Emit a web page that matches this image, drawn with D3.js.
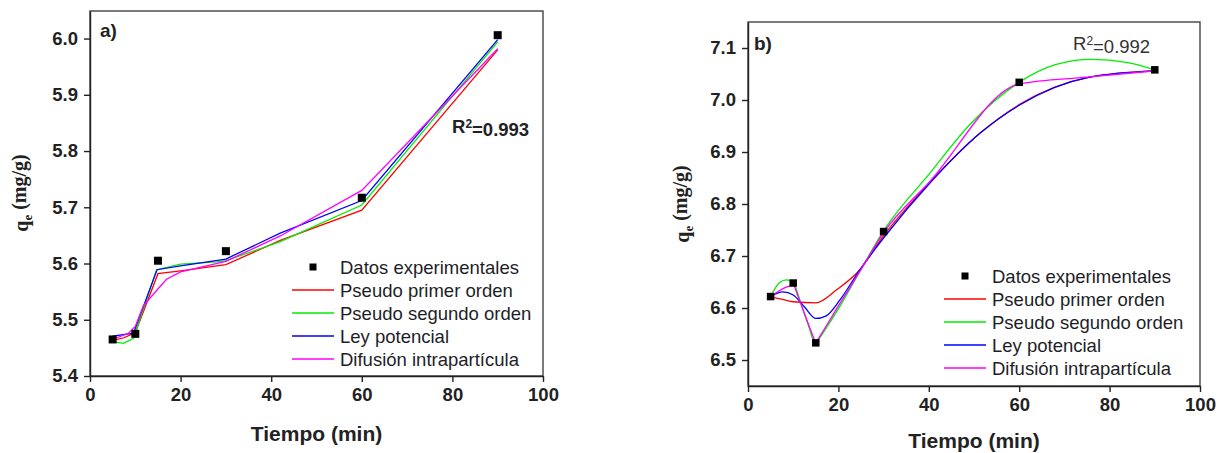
<!DOCTYPE html>
<html>
<head>
<meta charset="utf-8">
<script src="https://cdn.jsdelivr.net/npm/d3@7"></script>
<style>
  body { margin: 0; background: #fff; }
  svg { display: block; }
  .tick text { font-family: "Liberation Sans", Arial, sans-serif; font-weight: bold; font-size: 18.5px; fill: #222; }
  .axis path, .axis line { stroke: #222; stroke-width: 1.4; }
  .frame { fill: none; stroke: #444; stroke-width: 1.4; }
  .legend-text { font-family: "Liberation Sans", Arial, sans-serif; font-size: 18.5px; fill: #1e1e28; }
  .axis-title { font-family: "Liberation Sans", Arial, sans-serif; font-weight: bold; font-size: 21px; fill: #222; }
  .y-title { font-family: "Liberation Serif", "Times New Roman", serif; font-weight: bold; font-size: 20px; fill: #222; }
  .panel-label { font-family: "Liberation Sans", Arial, sans-serif; font-weight: bold; font-size: 19px; fill: #222; }
</style>
</head>
<body>
<div id="chart"></div>
<script>
// experimental points
const timeA = [5, 10, 15, 30, 60, 90];
const qeA = [5.465, 5.475, 5.605, 5.622, 5.717, 6.006];
const timeB = [5, 10, 15, 30, 60, 90];
const qeB = [6.622, 6.648, 6.533, 6.747, 7.034, 7.058];

// model curves, panel a  [t, q]
const primerA = [[5, 5.463], [7.5, 5.468], [10, 5.477], [15, 5.582], [20, 5.587], [30, 5.598], [42, 5.641], [60, 5.695], [90, 5.98]];
const segundoA = [[5, 5.461], [7.4, 5.458], [9.6, 5.467], [14.7, 5.589], [20, 5.599], [28, 5.603], [30, 5.605], [42, 5.639], [60, 5.704], [90, 5.994]];
const potencialA = [[5, 5.471], [9.6, 5.476], [14.8, 5.589], [20, 5.596], [30, 5.608], [42, 5.654], [60, 5.712], [90, 5.998]];
const difusionA = [[5, 5.465], [8.5, 5.476], [10, 5.488], [11.8, 5.525], [14.8, 5.553], [16.9, 5.572], [20, 5.585], [30, 5.604], [42, 5.649], [60, 5.73], [90, 5.982]];

// model curves, panel b  [t, q]
const primerB = [[5, 6.621], [7.5, 6.617], [10, 6.612], [15, 6.610], [19.6, 6.635], [24.7, 6.673], [30, 6.739], [40.2, 6.841], [51.3, 6.936], [60, 6.991], [75.6, 7.044], [90, 7.056]];
const segundoB = [[5, 6.622], [7, 6.649], [8.5, 6.654], [10, 6.650], [11, 6.628], [12, 6.601], [13.5, 6.563], [14.6, 6.535], [15, 6.532], [15.5, 6.538], [17.5, 6.564], [20.3, 6.6025], [24.7, 6.67], [30.2, 6.751], [40.2, 6.859], [49, 6.952], [60, 7.034], [68, 7.068], [76, 7.078], [84, 7.072], [90, 7.058]];
const potencialB = [[5, 6.622], [7.7, 6.631], [10, 6.625], [12.5, 6.602], [15, 6.580], [17.3, 6.585], [20.3, 6.615], [24.7, 6.673], [30.2, 6.737], [40.2, 6.84], [51.3, 6.936], [60, 6.99], [75.6, 7.044], [90, 7.056]];
const difusionB = [[5, 6.622], [8.5, 6.640], [10, 6.644], [11, 6.624], [12.2, 6.596], [13.5, 6.566], [14.6, 6.541], [15, 6.533], [15.5, 6.540], [17, 6.561], [20, 6.604], [25, 6.674], [30, 6.745], [40.2, 6.843], [60, 7.031], [75, 7.044], [90, 7.056]];

const seriesNames = ['Datos experimentales', 'Pseudo primer orden', 'Pseudo segundo orden', 'Ley potencial', 'Difusión intrapartícula'];
const seriesColors = ['#000000', '#ff0000', '#00ee00', '#0000ff', '#ff00ff'];
const xTicks = [0, 20, 40, 60, 80, 100];
const yTicksA = [5.4, 5.5, 5.6, 5.7, 5.8, 5.9, 6.0];
const yTicksB = [6.5, 6.6, 6.7, 6.8, 6.9, 7.0, 7.1];

const svg = d3.select('#chart').append('svg')
  .attr('width', 1225)
  .attr('height', 453);

function drawPanel(cfg) {
  const x = d3.scaleLinear().domain([0, 100]).range([cfg.left, cfg.right]);
  const y = d3.scaleLinear().domain(cfg.yDomain).range([cfg.bottom, cfg.top]);
  const g = svg.append('g');

  // frame
  g.append('rect')
    .attr('class', 'frame')
    .attr('x', cfg.left).attr('y', cfg.top)
    .attr('width', cfg.right - cfg.left)
    .attr('height', cfg.bottom - cfg.top);

  const xAxis = d3.axisBottom(x).tickValues(xTicks).tickSize(6).tickSizeOuter(0).tickPadding(6);
  const yAxis = d3.axisLeft(y).tickValues(cfg.yTicks).tickSize(6).tickSizeOuter(0).tickPadding(6)
    .tickFormat(d3.format('.1f'));

  g.append('g').attr('class', 'axis')
    .attr('transform', `translate(0,${cfg.bottom})`)
    .call(xAxis);
  g.append('g').attr('class', 'axis')
    .attr('transform', `translate(${cfg.left},0)`)
    .call(yAxis);

  // model lines (drawing order: red, green, blue, magenta)
  const line = d3.line()
    .x(d => x(d[0]))
    .y(d => y(d[1]))
    .curve(cfg.curve);
  cfg.curves.forEach((c, i) => {
    g.append('path')
      .datum(c)
      .attr('fill', 'none')
      .attr('stroke', seriesColors[i + 1])
      .attr('stroke-width', 1.3)
      .attr('d', line);
  });

  // experimental points
  const pts = cfg.time.map((t, i) => [t, cfg.qe[i]]);
  g.selectAll('.pt')
    .data(pts)
    .join('rect')
    .attr('class', 'pt')
    .attr('x', d => x(d[0]) - cfg.ptSize / 2)
    .attr('y', d => y(d[1]) - cfg.ptSize / 2)
    .attr('width', cfg.ptSize)
    .attr('height', cfg.ptSize)
    .attr('fill', '#000');

  // legend
  const lg = g.append('g').attr('transform', `translate(${cfg.legendX},${cfg.legendY})`);
  seriesNames.forEach((name, i) => {
    const row = lg.append('g').attr('transform', `translate(0,${i * 23})`);
    if (i === 0) {
      row.append('rect')
        .attr('x', 21 - 3.5).attr('y', -3.5)
        .attr('width', 7).attr('height', 7)
        .attr('fill', '#000');
    } else {
      row.append('line')
        .attr('x1', 0).attr('x2', 42)
        .attr('y1', 0).attr('y2', 0)
        .attr('stroke', seriesColors[i])
        .attr('stroke-width', 1.3);
    }
    row.append('text')
      .attr('class', 'legend-text')
      .attr('x', 48)
      .attr('y', 0)
      .attr('dy', '0.36em')
      .text(name);
  });

  // R2
  const r2 = g.append('text')
    .attr('x', cfg.r2X).attr('y', cfg.r2Y)
    .style('font-family', '"Liberation Sans", Arial, sans-serif')
    .style('font-size', '18.5px')
    .style('font-weight', cfg.r2Bold ? 'bold' : 'normal')
    .style('fill', cfg.r2Bold ? '#222' : '#333');
  r2.append('tspan').text('R');
  r2.append('tspan').attr('dy', '-0.45em').style('font-size', '12px').text('2');
  r2.append('tspan').attr('dy', '0.45em').text('=' + cfg.r2);

  // panel letter
  g.append('text')
    .attr('class', 'panel-label')
    .attr('x', cfg.left + cfg.labelDx)
    .attr('y', cfg.top + cfg.labelDy)
    .text(cfg.label);

  // axis titles
  g.append('text')
    .attr('class', 'axis-title')
    .attr('x', (cfg.left + cfg.right) / 2)
    .attr('y', cfg.xTitleY)
    .attr('text-anchor', 'middle')
    .text('Tiempo (min)');

  const yt = g.append('text')
    .attr('class', 'y-title')
    .attr('text-anchor', 'middle')
    .attr('transform', `translate(${cfg.yTitleX},${cfg.yTitleY}) rotate(-90)`);
  yt.append('tspan').text('q');
  yt.append('tspan').attr('dy', '0.3em').style('font-size', '13px').text('e');
  yt.append('tspan').attr('dy', '-0.3em').text(' (mg/g)');
}

drawPanel({
  left: 90, right: 543, top: 11, bottom: 376,
  yDomain: [5.4, 6.049], yTicks: yTicksA,
  time: timeA, qe: qeA, ptSize: 8,
  curves: [primerA, segundoA, potencialA, difusionA],
  curve: d3.curveLinear,
  legendX: 292, legendY: 267,
  r2X: 452, r2Y: 133, r2: '0.993', r2Bold: true,
  label: 'a)', labelDx: 10, labelDy: 26,
  xTitleY: 441, yTitleX: 28, yTitleY: 193
});

drawPanel({
  left: 748, right: 1200, top: 22, bottom: 386,
  yDomain: [6.45, 7.15], yTicks: yTicksB,
  time: timeB, qe: qeB, ptSize: 7.5,
  curves: [primerB, segundoB, potencialB, difusionB],
  curve: d3.curveMonotoneX,
  legendX: 944, legendY: 276,
  r2X: 1073, r2Y: 50, r2: '0.992', r2Bold: false,
  label: 'b)', labelDx: 6, labelDy: 28,
  xTitleY: 448, yTitleX: 689, yTitleY: 204
});
</script>
</body>
</html>
